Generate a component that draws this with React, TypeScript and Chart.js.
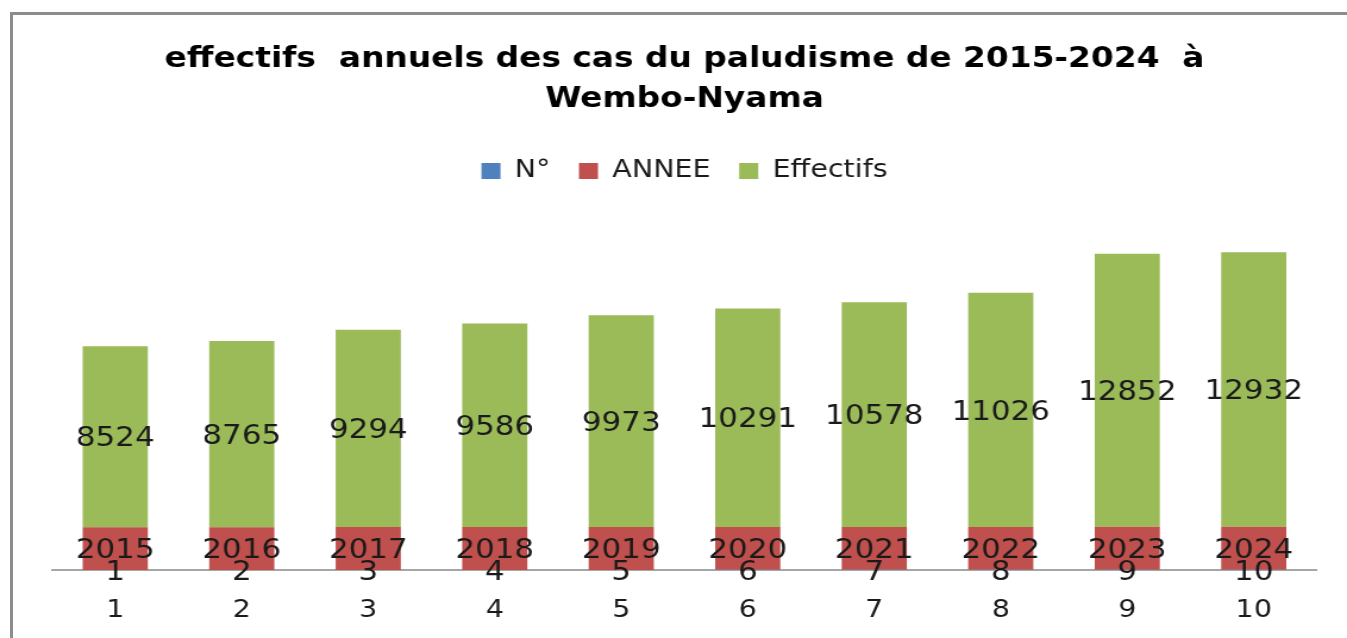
import { useEffect, useRef } from "react";
import { Chart, registerables } from "chart.js";

Chart.register(...registerables);

const titleLines = ["effectifs  annuels des cas du paludisme de 2015-2024  à", "Wembo-Nyama"];
const categories = ["1", "2", "3", "4", "5", "6", "7", "8", "9", "10"];
const numeros = [1, 2, 3, 4, 5, 6, 7, 8, 9, 10];
const annees = [2015, 2016, 2017, 2018, 2019, 2020, 2021, 2022, 2023, 2024];
const effectifs = [8524, 8765, 9294, 9586, 9973, 10291, 10578, 11026, 12852, 12932];

const FONT = '"DejaVu Sans", "Open Sans", sans-serif';
// The original picture is horizontally stretched; render narrower and stretch.
const STRETCH = 1.19;
const PAGE_W = 1347;
const PAGE_H = 638;
const INNER_W = Math.round(PAGE_W / STRETCH);

const valueLabels = {
  id: "valueLabels",
  afterDatasetsDraw(chart: any) {
    const ctx = chart.ctx;
    ctx.save();
    ctx.font = `26px ${FONT}`;
    ctx.fillStyle = "#1a1a1a";
    ctx.textAlign = "center";
    ctx.textBaseline = "middle";
    chart.data.datasets.forEach((ds: any, i: number) => {
      const meta = chart.getDatasetMeta(i);
      meta.data.forEach((el: any, j: number) => {
        const { x, y, base } = el.getProps(["x", "y", "base"], true);
        ctx.fillText(String(ds.data[j]), x, (y + base) / 2 + 3);
      });
    });
    ctx.restore();
  },
};

export default function App() {
  const ref = useRef<HTMLCanvasElement>(null);

  useEffect(() => {
    if (!ref.current) return;
    const chart = new Chart(ref.current, {
      type: "bar",
      data: {
        labels: categories,
        datasets: [
          { label: "N°", data: numeros, backgroundColor: "#4F81BD" },
          { label: "ANNEE", data: annees, backgroundColor: "#C0504D" },
          { label: "Effectifs", data: effectifs, backgroundColor: "#9BBB59" },
        ],
      },
      options: {
        responsive: false,
        animation: false,
        devicePixelRatio: 1,
        datasets: {
          bar: { categoryPercentage: 1, barPercentage: 0.515, borderWidth: 0 },
        },
        layout: { padding: { left: 52 / STRETCH, right: (PAGE_W - 1317) / STRETCH, top: 0, bottom: 0 } },
        plugins: {
          title: {
            display: true,
            text: titleLines,
            color: "#000000",
            font: { family: FONT, size: 27.6, weight: "bold", lineHeight: 40 / 27.6 },
            padding: { top: 40, bottom: 15 },
          },
          legend: {
            display: true,
            labels: {
              color: "#1a1a1a",
              font: { family: FONT, size: 24 },
              boxWidth: 16,
              boxHeight: 16,
              padding: 24,
            },
          },
          tooltip: { enabled: false },
        },
        scales: {
          x: {
            stacked: true,
            grid: { display: false, drawTicks: false },
            border: { display: true, color: "#a6a6a6", width: 2 },
            ticks: { color: "#1a1a1a", font: { family: FONT, size: 24 }, padding: 26 },
            afterFit: (s: any) => {
              s.height = 68;
            },
          },
          y: {
            stacked: true,
            display: false,
            min: 0,
            max: 17750,
          },
        },
      },
      plugins: [valueLabels],
    });
    return () => chart.destroy();
  }, []);

  return (
    <div
      style={{
        position: "fixed",
        left: 0,
        top: 0,
        width: PAGE_W,
        height: PAGE_H,
        overflow: "hidden",
        background: "#ffffff",
      }}
    >
      <canvas
        ref={ref}
        width={INNER_W}
        height={PAGE_H}
        style={{
          position: "absolute",
          left: 0,
          top: 0,
          width: INNER_W,
          height: PAGE_H,
          transform: `scaleX(${PAGE_W / INNER_W})`,
          transformOrigin: "0 0",
        }}
      />
      <div
        style={{
          position: "absolute",
          left: 10,
          top: 12,
          width: 1400,
          height: 700,
          border: "3px solid #8c8c8c",
          pointerEvents: "none",
        }}
      />
    </div>
  );
}
